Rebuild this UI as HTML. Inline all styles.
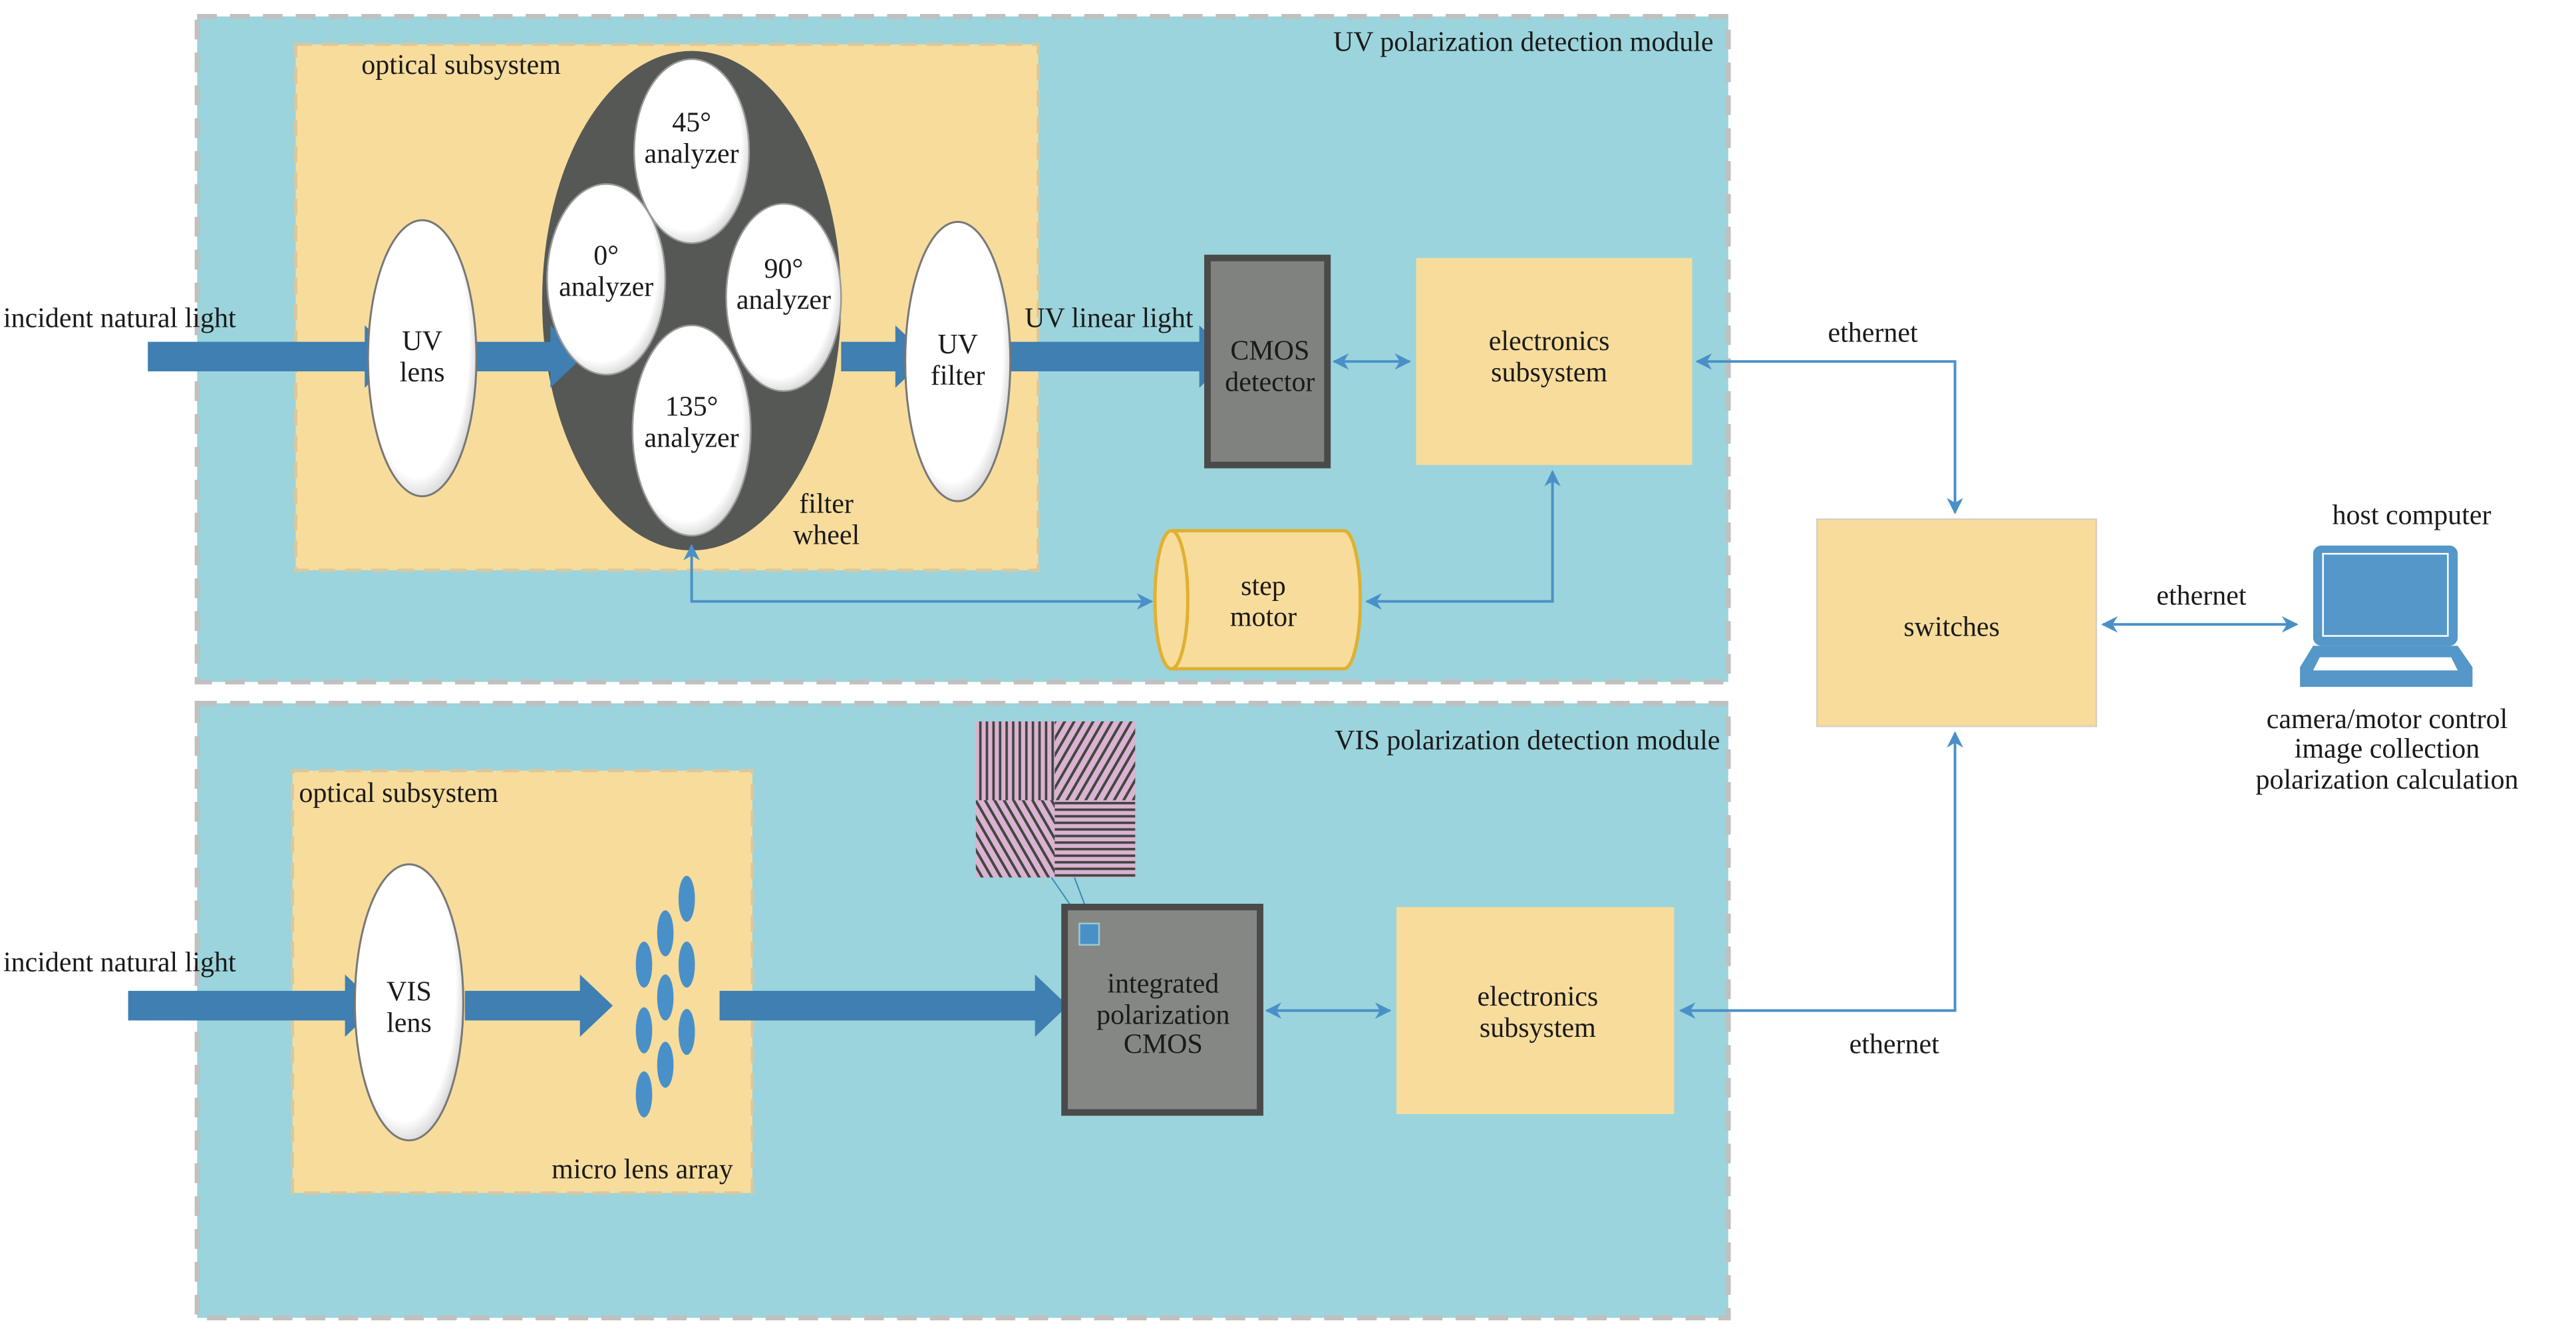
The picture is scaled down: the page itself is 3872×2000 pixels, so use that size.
<!DOCTYPE html>
<html><head><meta charset="utf-8"><style>
html,body{margin:0;padding:0;background:#fff;}
svg{display:block;}
svg text{font-family:"Liberation Serif","DejaVu Serif",serif;font-size:17px;fill:#1a1a1a;}
</style></head><body>
<svg width="3872" height="2000" viewBox="0 0 1568 810" preserveAspectRatio="none" xmlns="http://www.w3.org/2000/svg" font-family="Liberation Serif, DejaVu Serif, serif">
<defs>
<marker id="ah" markerWidth="10" markerHeight="10" refX="9" refY="5" orient="auto-start-reverse" markerUnits="userSpaceOnUse"><path d="M0,0 L10,5 L0,10 L3,5 Z" fill="#4a90c8"/></marker>
<pattern id="pv" width="4" height="4" patternUnits="userSpaceOnUse"><rect width="4" height="4" fill="#d9b3cf"/><rect width="1.5" height="4" fill="#444"/></pattern>
<pattern id="ph" width="4" height="4" patternUnits="userSpaceOnUse"><rect width="4" height="4" fill="#d9b3cf"/><rect width="4" height="1.5" fill="#444"/></pattern>
<pattern id="pd1" width="5" height="5" patternUnits="userSpaceOnUse" patternTransform="rotate(30)"><rect width="5" height="5" fill="#d9b3cf"/><rect width="1.6" height="5" fill="#444"/></pattern>
<pattern id="pd2" width="5" height="5" patternUnits="userSpaceOnUse" patternTransform="rotate(-30)"><rect width="5" height="5" fill="#d9b3cf"/><rect width="1.6" height="5" fill="#444"/></pattern>
<radialGradient id="wg" cx="45%" cy="45%" r="60%"><stop offset="80%" stop-color="#fff"/><stop offset="100%" stop-color="#c8c8c8"/></radialGradient>
</defs>
<rect x="120" y="10" width="932" height="405" fill="#9bd4dc" stroke="#c0c0c0" stroke-width="3" stroke-dasharray="12,8"/>
<rect x="120" y="428" width="932" height="374" fill="#9bd4dc" stroke="#c0c0c0" stroke-width="3" stroke-dasharray="12,8"/>
<text x="1043" y="31" text-anchor="end">UV polarization detection module</text>
<text x="1047" y="456" text-anchor="end">VIS polarization detection module</text>
<rect x="180" y="27" width="452" height="320" fill="#f7dc9c" stroke="#d8c8a0" stroke-width="2" stroke-dasharray="10,6"/>
<text x="220" y="45">optical subsystem</text>
<ellipse cx="421" cy="183" rx="91" ry="152" fill="#555855"/>
<g fill="#3f7fb2">
<path d="M90,208 H222 V198 L242,217 L222,236 V226 H90 Z"/>
<path d="M288,208 H335 V198 L355,217 L335,236 V226 H288 Z"/>
<path d="M512,208 H545 V198 L565,217 L545,236 V226 H512 Z"/>
<path d="M615,208 H730 V198 L750,217 L730,236 V226 H615 Z"/>
</g>
<ellipse cx="257" cy="218" rx="33" ry="84" fill="url(#wg)" stroke="#777" stroke-width="1.2"/>
<text x="257" y="213" text-anchor="middle">UV</text><text x="257" y="232" text-anchor="middle">lens</text>
<ellipse cx="421" cy="92" rx="35" ry="56" fill="url(#wg)" stroke="#999"/>
<ellipse cx="369" cy="170" rx="36" ry="58" fill="url(#wg)" stroke="#999"/>
<ellipse cx="477" cy="181" rx="35" ry="57" fill="url(#wg)" stroke="#999"/>
<ellipse cx="421" cy="262" rx="36" ry="64" fill="url(#wg)" stroke="#999"/>
<text x="421" y="80" text-anchor="middle">45°</text><text x="421" y="99" text-anchor="middle">analyzer</text>
<text x="369" y="161" text-anchor="middle">0°</text><text x="369" y="180" text-anchor="middle">analyzer</text>
<text x="477" y="169" text-anchor="middle">90°</text><text x="477" y="188" text-anchor="middle">analyzer</text>
<text x="421" y="253" text-anchor="middle">135°</text><text x="421" y="272" text-anchor="middle">analyzer</text>
<text x="503" y="312" text-anchor="middle">filter</text><text x="503" y="331" text-anchor="middle">wheel</text>
<ellipse cx="583" cy="220" rx="32" ry="85" fill="url(#wg)" stroke="#777" stroke-width="1.2"/>
<text x="583" y="215" text-anchor="middle">UV</text><text x="583" y="234" text-anchor="middle">filter</text>
<text x="2" y="199">incident natural light</text>
<text x="675" y="199" text-anchor="middle">UV linear light</text>
<rect x="735" y="157" width="73" height="126" fill="#808280" stroke="#4a4a4a" stroke-width="4"/>
<text x="773" y="219" text-anchor="middle">CMOS</text><text x="773" y="238" text-anchor="middle">detector</text>
<rect x="862" y="157" width="168" height="126" fill="#f7dc9c"/>
<text x="943" y="213" text-anchor="middle">electronics</text><text x="943" y="232" text-anchor="middle">subsystem</text>
<g stroke="#4a90c8" stroke-width="1.6" fill="none">
<line x1="812" y1="220" x2="858" y2="220" marker-start="url(#ah)" marker-end="url(#ah)"/>
<path d="M1190,312 V220 H1033" marker-start="url(#ah)" marker-end="url(#ah)"/>
<path d="M945,287 V366 H832" marker-start="url(#ah)" marker-end="url(#ah)"/>
<path d="M421,332 V366 H701" marker-start="url(#ah)" marker-end="url(#ah)"/>
<line x1="1280" y1="380" x2="1398" y2="380" marker-start="url(#ah)" marker-end="url(#ah)"/>
<path d="M1190,446 V615 H1023" marker-start="url(#ah)" marker-end="url(#ah)"/>
<line x1="771" y1="615" x2="846" y2="615" marker-start="url(#ah)" marker-end="url(#ah)"/>
</g>
<text x="1140" y="208" text-anchor="middle">ethernet</text>
<path d="M713,323 H818 A10,42 0 0 1 818,407 H713 A10,42 0 0 1 713,323 Z" fill="#f7dc9c" stroke="#e0b030" stroke-width="2"/>
<path d="M713,323 A10,42 0 0 1 713,407" fill="none" stroke="#e0b030" stroke-width="2"/>
<text x="769" y="362" text-anchor="middle">step</text><text x="769" y="381" text-anchor="middle">motor</text>
<rect x="1106" y="316" width="170" height="126" fill="#f7dc9c" stroke="#d8d0c0"/>
<text x="1188" y="387" text-anchor="middle">switches</text>
<text x="1340" y="368" text-anchor="middle">ethernet</text>
<rect x="1408" y="332" width="88" height="61" rx="5" fill="#5597c8"/>
<rect x="1414" y="337" width="76" height="50" fill="#5597c8" stroke="#fff" stroke-width="1"/>
<path d="M1408,393 H1496 L1505,406 V418 H1400 V406 Z" fill="#5597c8"/>
<path d="M1412,400 H1492 L1496,408 H1408 Z" fill="#fff"/>
<text x="1468" y="319" text-anchor="middle">host computer</text>
<text x="1453" y="443" text-anchor="middle">camera/motor control</text>
<text x="1453" y="461" text-anchor="middle">image collection</text>
<text x="1453" y="480" text-anchor="middle">polarization calculation</text>
<text x="1153" y="641" text-anchor="middle">ethernet</text>
<rect x="178" y="469" width="280" height="257" fill="#f7dc9c" stroke="#d8c8a0" stroke-width="2" stroke-dasharray="10,6"/>
<text x="182" y="488">optical subsystem</text>
<g fill="#3f7fb2">
<path d="M78,603 H210 V593 L230,612 L210,631 V621 H78 Z"/>
<path d="M283,603 H353 V593 L373,612 L353,631 V621 H283 Z"/>
<path d="M438,603 H630 V593 L650,612 L630,631 V621 H438 Z"/>
</g>
<ellipse cx="249" cy="610" rx="33" ry="84" fill="url(#wg)" stroke="#777" stroke-width="1.2"/>
<text x="249" y="609" text-anchor="middle">VIS</text><text x="249" y="628" text-anchor="middle">lens</text>
<g fill="#4a90c8">
<ellipse cx="418" cy="547" rx="5" ry="14"/>
<ellipse cx="405" cy="568" rx="5" ry="14"/>
<ellipse cx="418" cy="587" rx="5" ry="14"/>
<ellipse cx="392" cy="587" rx="5" ry="14"/>
<ellipse cx="405" cy="607" rx="5" ry="14"/>
<ellipse cx="418" cy="628" rx="5" ry="14"/>
<ellipse cx="392" cy="627" rx="5" ry="14"/>
<ellipse cx="405" cy="648" rx="5" ry="14"/>
<ellipse cx="392" cy="666" rx="5" ry="14"/>
</g>
<text x="391" y="717" text-anchor="middle">micro lens array</text>
<text x="2" y="591">incident natural light</text>
<rect x="594" y="439" width="48" height="48" fill="url(#pv)"/>
<rect x="642" y="439" width="49" height="48" fill="url(#pd1)"/>
<rect x="594" y="487" width="48" height="47" fill="url(#pd2)"/>
<rect x="642" y="487" width="49" height="47" fill="url(#ph)"/>
<line x1="640" y1="534" x2="660" y2="563" stroke="#3a8ab8" stroke-width="0.8"/>
<line x1="654" y1="534" x2="665" y2="563" stroke="#3a8ab8" stroke-width="0.8"/>
<rect x="648" y="552" width="119" height="125" fill="#858785" stroke="#4a4a4a" stroke-width="4"/>
<rect x="657" y="562" width="12" height="13" fill="#4a90c8" stroke="#9cc" stroke-width="1"/>
<text x="708" y="604" text-anchor="middle">integrated</text>
<text x="708" y="623" text-anchor="middle">polarization</text>
<text x="708" y="641" text-anchor="middle">CMOS</text>
<rect x="850" y="552" width="169" height="126" fill="#f7dc9c"/>
<text x="936" y="612" text-anchor="middle">electronics</text><text x="936" y="631" text-anchor="middle">subsystem</text>
</svg>
</body></html>
